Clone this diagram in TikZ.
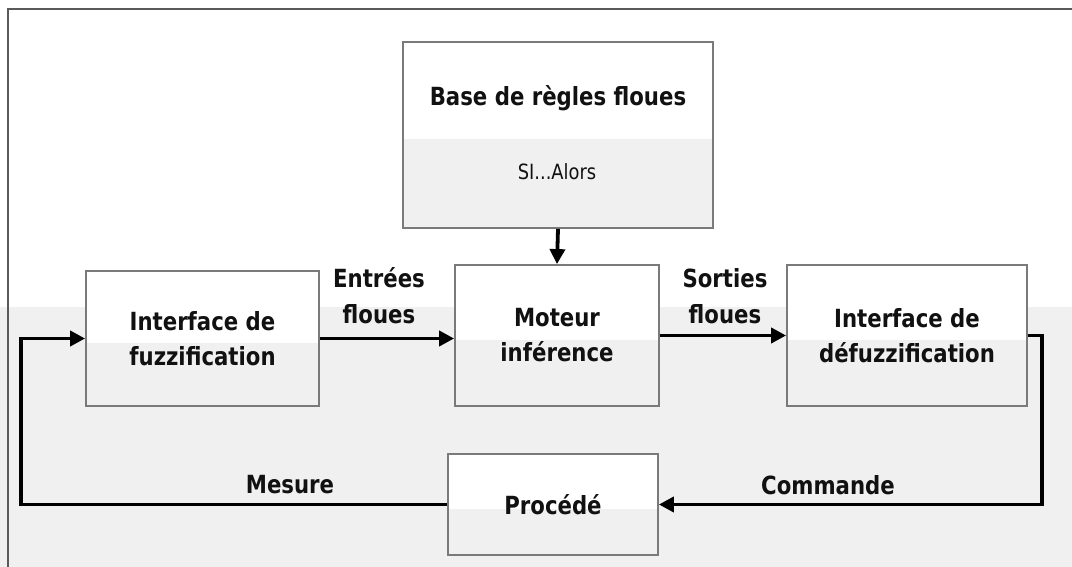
\documentclass[tikz,border=0pt]{standalone}
\usepackage{fontspec}
\setmainfont{DejaVu Sans}[FakeStretch=0.85]
\usetikzlibrary{arrows.meta,calc}
\definecolor{lowgray}{HTML}{F0F0F0}
\definecolor{edgegray}{HTML}{7A7A7A}
\definecolor{framegray}{HTML}{5A5A5A}
\definecolor{ink}{HTML}{111111}
\tikzset{
  blockbox/.style={draw=edgegray, line width=1.8pt, fill=white, inner sep=0pt,
    align=center, text=ink, font=\fontsize{25}{35}\selectfont\bfseries,
    path picture={\fill[lowgray] ($(path picture bounding box.west)+(0,4)$)
      rectangle (path picture bounding box.south east);}},
  flow/.style={draw=black, line width=3.8pt,
    -{Triangle[length=15pt,width=15pt]}},
  flowlabel/.style={align=center, text=ink, inner sep=0pt,
    font=\fontsize{25}{36}\selectfont\bfseries},
}
\begin{document}
\begin{tikzpicture}[x=1pt,y=-1pt]
  % page and background bands
  \useasboundingbox (0,0) rectangle (1072,567);
  \fill[white] (0,0) rectangle (1072,567);
  \fill[lowgray] (0,307) rectangle (1072,567);
  \draw[framegray, line width=1.8pt] (8,567) -- (8,9) -- (1072,9);

  % blocks
  \node[blockbox, minimum width=310pt, minimum height=186pt] (base) at (558,135) {};
  \node[flowlabel] (basetitle) at (558,98) {Base de règles floues};
  \node[text=ink, inner sep=0pt, font=\fontsize{21}{26}\selectfont] (baserule) at (557,172) {SI...Alors};

  \node[blockbox, minimum width=233pt, minimum height=135pt] (fuzz) at (202.5,338.5) {Interface de\\fuzzification};
  \node[blockbox, minimum width=204pt, minimum height=141pt] (moteur) at (557,335.5) {Moteur\\inférence};
  \node[blockbox, minimum width=240pt, minimum height=141pt] (defuzz) at (907,335.5) {Interface de\\défuzzification};
  \node[blockbox, minimum width=210pt, minimum height=101pt] (proc) at (553,504.5) {Procédé};

  % connectors
  \coordinate (loopR) at (1042,335.5);
  \coordinate (loopL) at (21,504.5);
  \draw[flow] (base.south) -- (moteur.north);
  \draw[flow] (fuzz.east) -- (fuzz.east -| moteur.west);
  \draw[flow] (moteur.east) -- (moteur.east -| defuzz.west);
  \draw[flow] (defuzz.east) -- (loopR) |- (proc.east);
  \draw[flow] (proc.west) -- (loopL) |- (fuzz.west);

  % connector labels
  \node[flowlabel] (lblin) at (379,296) {Entrées\\floues};
  \node[flowlabel] (lblout) at (725,296) {Sorties\\floues};
  \node[flowlabel] (lblmes) at (290,485) {Mesure};
  \node[flowlabel] (lblcmd) at (828,485) {Commande};
\end{tikzpicture}
\end{document}
